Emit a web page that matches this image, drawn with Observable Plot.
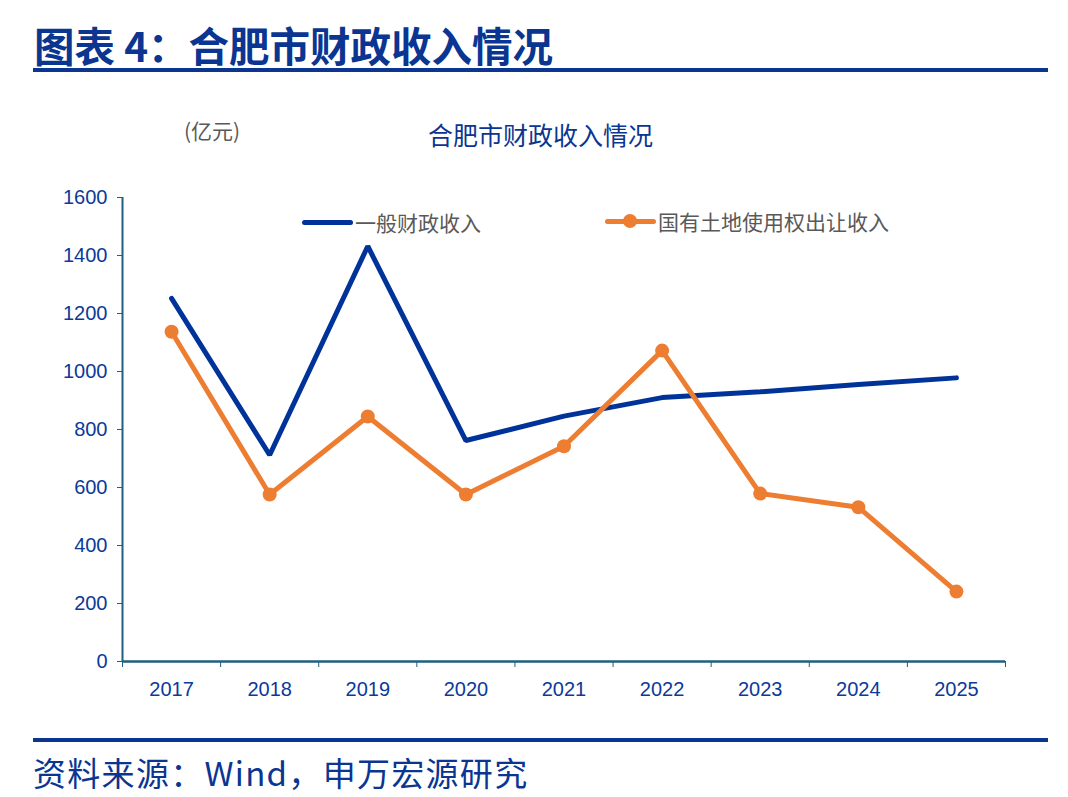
<!DOCTYPE html>
<html><head><meta charset="utf-8">
<script src="https://cdn.jsdelivr.net/npm/d3@7"></script>
<script src="https://cdn.jsdelivr.net/npm/@observablehq/plot@0.6"></script>
<style>
body{margin:0;background:#fff;width:1068px;height:797px;position:relative;overflow:hidden;font-family:"Liberation Sans","Noto Sans CJK SC",sans-serif;}
.abs{position:absolute;white-space:nowrap;}
#title{top:15px;left:34px;font-size:40.5px;font-weight:bold;color:#0a3591;font-family:"Noto Sans CJK SC",sans-serif;}
.rule{left:33px;width:1015px;height:4px;background:#0a3591;}
#unit{top:115px;left:184px;font-size:21px;color:#595959;font-family:"Noto Sans CJK SC",sans-serif;}
#ctitle{top:116px;left:428px;font-size:25px;color:#0a3591;font-family:"Noto Sans CJK SC",sans-serif;}
#source{top:755px;left:33px;font-size:33px;line-height:34px;letter-spacing:1.3px;color:#0a3591;font-family:"Noto Sans CJK SC",sans-serif;}
.leg{font-size:21px;color:#595959;font-family:"Noto Sans CJK SC",sans-serif;}
#chart{position:absolute;top:180px;left:0;}
</style></head>
<body>
<div id="title" class="abs">图表 4：合肥市财政收入情况</div>
<div class="abs rule" style="top:68px"></div>
<div id="unit" class="abs">(亿元)</div>
<div id="ctitle" class="abs">合肥市财政收入情况</div>
<div id="chart"></div>
<div class="abs rule" style="top:738px"></div>
<div id="source" class="abs">资料来源：Wind，申万宏源研究</div>
<script>
const years = [2017, 2018, 2019, 2020, 2021, 2022, 2023, 2024, 2025];
const generalRevenue = [1252, 712, 1432, 762, 846, 910, 930, 955, 978];
const landRevenue = [1137, 576, 845, 576, 742, 1072, 579, 532, 241];
const yTicks = [0, 200, 400, 600, 800, 1000, 1200, 1400, 1600];
const seriesNames = ["一般财政收入", "国有土地使用权出让收入"];
const colors = ["#003399", "#ED7D31"];

const general = years.map((y, i) => ({year: y, value: generalRevenue[i]}));
const land = years.map((y, i) => ({year: y, value: landRevenue[i]}));
const boundaries = years.map(y => y - 0.5).concat([years[years.length - 1] + 0.5]);

const axisColor = "#1f5f7f";
const labelColor = "#0b3a9a";

const plot = Plot.plot({
  width: 1068,
  height: 530,
  marginLeft: 122,
  marginRight: 63,
  marginTop: 17,
  marginBottom: 49,
  style: {fontFamily: "Liberation Sans, Arial, sans-serif", fontSize: "20px", background: "transparent"},
  x: {type: "linear", domain: [boundaries[0], boundaries[boundaries.length - 1]]},
  y: {domain: [0, 1600]},
  marks: [
    Plot.axisY({ticks: yTicks, tickSize: 5, tickPadding: 10, tickFormat: d => String(d), stroke: axisColor, color: labelColor, fontSize: 20, label: null}),
    Plot.axisX({ticks: boundaries, tickSize: 6, tickFormat: () => "", stroke: axisColor, label: null}),
    Plot.axisX({ticks: years, tickSize: 0, tickPadding: 20, tickFormat: d => String(d), color: labelColor, fontSize: 20, label: null}),
    Plot.ruleX([boundaries[0]], {stroke: axisColor, strokeWidth: 2}),
    Plot.ruleY([0], {stroke: axisColor, strokeWidth: 2.5}),
    Plot.line(general, {x: "year", y: "value", stroke: colors[0], strokeWidth: 5, strokeLinejoin: "miter", strokeLinecap: "round"}),
    Plot.line(land, {x: "year", y: "value", stroke: colors[1], strokeWidth: 5, strokeLinejoin: "round"}),
    Plot.dot(land, {x: "year", y: "value", fill: colors[1], r: 7})
  ]
});
document.getElementById("chart").appendChild(plot);

// legend
const body = document.body;
function legend(idx, lineLeft, top, withDot) {
  const ln = document.createElement("div");
  ln.className = "abs";
  ln.style.cssText = `left:${lineLeft}px;top:${top - 2.5}px;width:51px;height:5px;border-radius:3px;background:${colors[idx]}`;
  body.appendChild(ln);
  if (withDot) {
    const d = document.createElement("div");
    d.className = "abs";
    d.style.cssText = `left:${lineLeft + 25 - 7}px;top:${top - 7}px;width:14px;height:14px;border-radius:7px;background:${colors[idx]}`;
    body.appendChild(d);
  }
  const t = document.createElement("div");
  t.className = "abs leg";
  t.style.cssText += `left:${lineLeft + 53}px;top:${top - 15}px;`;
  t.textContent = seriesNames[idx];
  body.appendChild(t);
}
legend(0, 302, 222, false);
legend(1, 605, 221, true);
</script>
</body></html>
